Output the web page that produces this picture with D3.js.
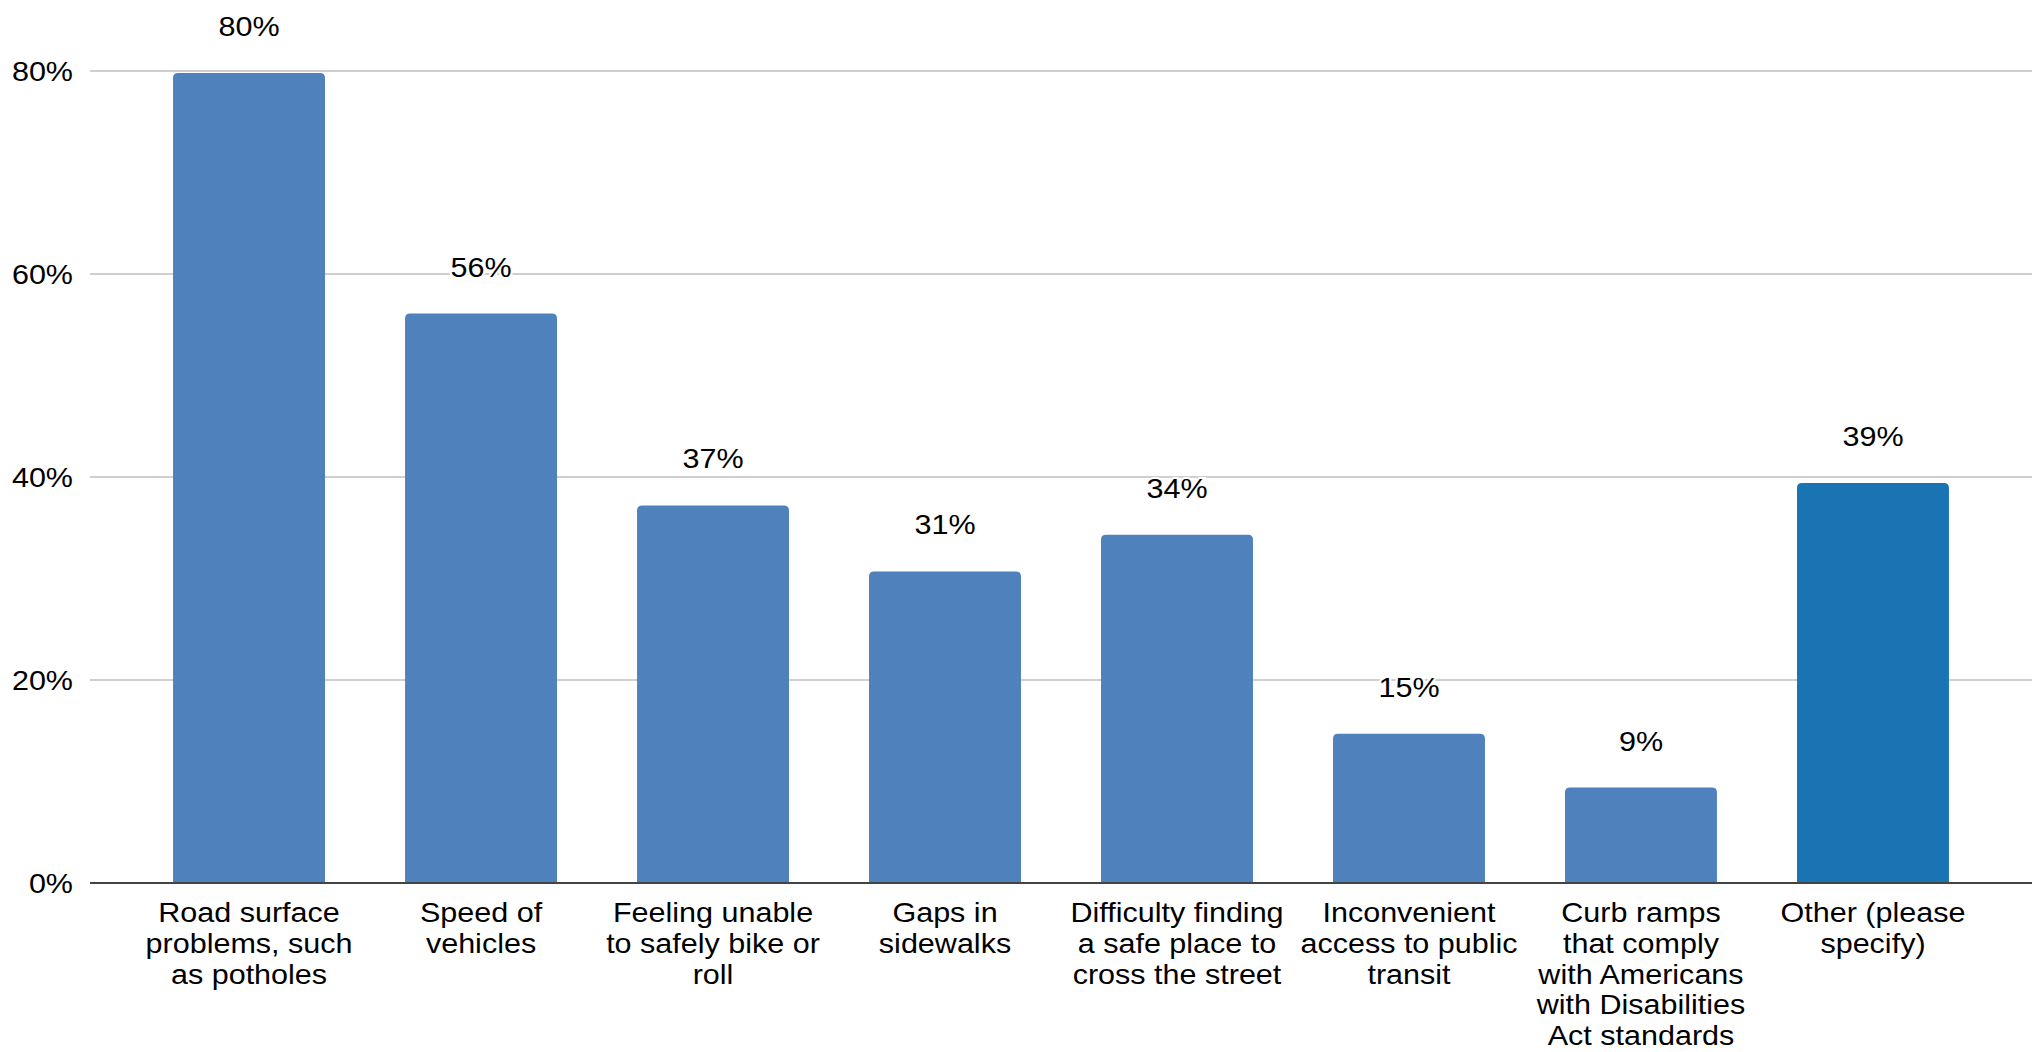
<!DOCTYPE html>
<html>
<head>
<meta charset="utf-8">
<script src="https://cdn.jsdelivr.net/npm/d3@7"></script>
<style>
  html, body { margin: 0; padding: 0; background: #fff; }
  svg { display: block; }
  text { font-family: "Liberation Sans", Arial, Helvetica, sans-serif; fill: #000; }
</style>
</head>
<body>
<svg id="chart" width="2032" height="1052"></svg>
<script>
const categories = [
  ["Road surface", "problems, such", "as potholes"],
  ["Speed of", "vehicles"],
  ["Feeling unable", "to safely bike or", "roll"],
  ["Gaps in", "sidewalks"],
  ["Difficulty finding", "a safe place to", "cross the street"],
  ["Inconvenient", "access to public", "transit"],
  ["Curb ramps", "that comply", "with Americans", "with Disabilities", "Act standards"],
  ["Other (please", "specify)"]
];
const values = [79.8, 56.1, 37.2, 30.7, 34.3, 14.7, 9.4, 39.4];
const valueLabels = ["80%", "56%", "37%", "31%", "34%", "15%", "9%", "39%"];
const yTicks = [0, 20, 40, 60, 80];
const barColors = ["#4f81bd", "#4f81bd", "#4f81bd", "#4f81bd", "#4f81bd", "#4f81bd", "#4f81bd", "#1a74b3"];

const svg = d3.select("#chart");
const plotLeft = 90, plotRight = 2032, plotTop = 71, plotBottom = 883;
const FS = 27.5, SX = 1.11;

const x = d3.scaleBand()
  .domain(d3.range(categories.length))
  .range([plotLeft, plotRight])
  .paddingInner(0.345)
  .paddingOuter(0.358);

const y = d3.scaleLinear().domain([0, 80]).range([plotBottom, plotTop]);

// gridlines
svg.append("g").selectAll("line")
  .data(yTicks.filter(t => t > 0))
  .join("line")
  .attr("x1", plotLeft).attr("x2", plotRight)
  .attr("y1", d => y(d)).attr("y2", d => y(d))
  .attr("stroke", "#cfcfcf").attr("stroke-width", 2);

// y tick labels
svg.append("g").selectAll("g")
  .data(yTicks)
  .join("g")
  .attr("transform", d => `translate(73,${y(d)}) scale(${SX},1)`)
  .append("text")
  .attr("text-anchor", "end")
  .attr("dy", "0.35em")
  .style("font-size", FS + "px")
  .text(d => d + "%");

// bars with rounded top corners
function barPath(x0, w, yTop, yBase, r) {
  r = Math.min(r, w / 2, (yBase - yTop));
  return `M${x0},${yBase}V${yTop + r}Q${x0},${yTop} ${x0 + r},${yTop}H${x0 + w - r}Q${x0 + w},${yTop} ${x0 + w},${yTop + r}V${yBase}Z`;
}
svg.append("g").selectAll("path")
  .data(values)
  .join("path")
  .attr("d", (d, i) => barPath(x(i), x.bandwidth(), y(d), y(0), 5))
  .attr("fill", (d, i) => barColors[i]);

// baseline
svg.append("line")
  .attr("x1", plotLeft).attr("x2", plotRight)
  .attr("y1", y(0)).attr("y2", y(0))
  .attr("stroke", "#444").attr("stroke-width", 2);

// value labels
svg.append("g").selectAll("g")
  .data(values)
  .join("g")
  .attr("transform", (d, i) => `translate(${x(i) + x.bandwidth() / 2},${y(d) - 37}) scale(${SX},1)`)
  .append("text")
  .attr("text-anchor", "middle")
  .style("font-size", FS + "px")
  .attr("stroke", "#fff").attr("stroke-width", 4).attr("paint-order", "stroke")
  .text((d, i) => valueLabels[i]);

// category labels
const cat = svg.append("g").selectAll("g")
  .data(categories)
  .join("g")
  .attr("transform", (d, i) => `translate(${x(i) + x.bandwidth() / 2},${y(0) + 39}) scale(${SX},1)`)
  .append("text")
  .attr("text-anchor", "middle")
  .style("font-size", FS + "px");
cat.selectAll("tspan")
  .data(d => d)
  .join("tspan")
  .attr("x", 0)
  .attr("y", (d, j) => j * 30.8)
  .text(d => d);
</script>
</body>
</html>
